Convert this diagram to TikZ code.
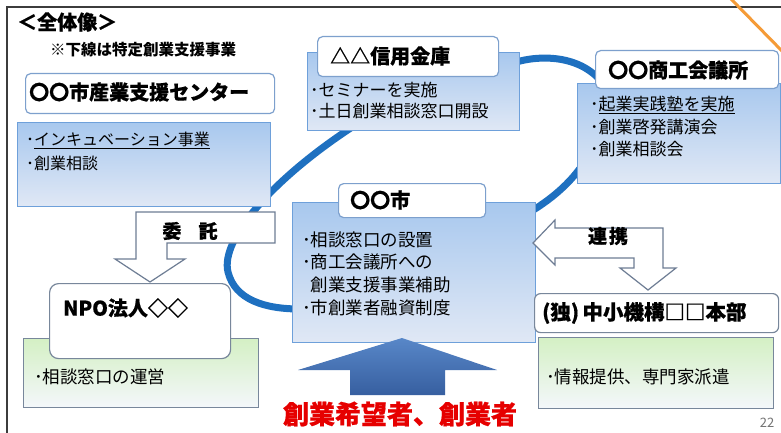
\documentclass[tikz,border=0pt]{standalone}
\usepackage{fontspec}
\setmainfont{Noto Sans CJK JP}
\definecolor{ringblue}{RGB}{30,112,192}
\definecolor{bodytop}{RGB}{168,200,238}
\definecolor{bodybot}{RGB}{224,232,245}
\definecolor{bodyedge}{RGB}{110,160,218}
\definecolor{titleedge}{RGB}{125,160,205}
\definecolor{greentop}{RGB}{212,240,196}
\definecolor{greenbot}{RGB}{244,247,251}
\definecolor{grayedge}{RGB}{120,135,155}
\definecolor{arrowedge}{RGB}{110,125,148}
\definecolor{framecol}{RGB}{60,60,60}
\definecolor{bigtop}{RGB}{88,135,200}
\definecolor{bigbot}{RGB}{55,95,160}
\definecolor{redtext}{RGB}{230,0,0}
\definecolor{orangeline}{RGB}{245,155,55}
\tikzset{
  ring/.style={draw=ringblue, line width=7pt},
  bodybox/.style={draw=bodyedge, line width=1.2pt, top color=bodytop, bottom color=bodybot, inner sep=0pt, anchor=north west},
  greenbox/.style={draw=grayedge, line width=1.2pt, top color=greentop, bottom color=greenbot, inner sep=0pt, anchor=north west},
  titlebox/.style={draw=titleedge, line width=1.2pt, fill=white, rounded corners=5pt, inner sep=0pt, anchor=north west},
  graytitle/.style={titlebox, draw=grayedge},
  ttext/.style={inner sep=0pt, anchor=west, font=\fontsize{20}{24}\selectfont\bfseries\addfontfeature{FakeBold=0.6}},
  btext/.style={inner sep=0pt, anchor=west, font=\fontsize{17}{20}\selectfont},
  stext/.style={inner sep=0pt, anchor=west, font=\fontsize{16}{20}\selectfont},
  bentarrow/.style={draw=arrowedge, line width=1.2pt, fill=white, line join=miter},
  atext/.style={inner sep=0pt, font=\fontsize{19}{22}\selectfont\bfseries\addfontfeature{FakeBold=0.6}},
}
\begin{document}
\begin{tikzpicture}[x=1pt,y=-1pt]
\useasboundingbox (0,0) rectangle (781,433);
\fill[white] (0,0) rectangle (781,433);
% frame
\draw[framecol, line width=1.6pt] (7,433) -- (7,7) -- (781,7);
\draw[orangeline, line width=3pt] (731,-1) -- (782,51);
% heading
\node[inner sep=0pt, anchor=west, font=\fontsize{20}{24}\selectfont\bfseries\addfontfeature{FakeBold=0.6}] (head) at (17,22) {＜全体像＞};
\node[inner sep=0pt, anchor=west, font=\fontsize{15.5}{18}\selectfont\bfseries] (note) at (50,50) {※下線は特定創業支援事業};
% ring
\draw[ring] (360,122) .. controls (272,178) and (220,240) .. (228,272) .. controls (235,300) and (265,309) .. (300,309);
\draw[ring] (505,66) .. controls (530,55) and (575,52) .. (600,80);
\draw[ring] (600,130) .. controls (588,165) and (565,192) .. (525,215);
% 産業支援センター
\node[bodybox, minimum width=253pt, minimum height=84pt] (b1) at (17,122) {};
\node[titlebox, minimum width=249pt, minimum height=40pt] (h1) at (25,73) {};
\node[ttext] (h1t) at (29,92) {〇〇市産業支援センター};
\node[stext] (b1a) at (26,140) {･\underline{インキュベーション事業}};
\node[stext] (b1b) at (26,163) {･創業相談};
% 信用金庫
\node[bodybox, minimum width=212pt, minimum height=78pt] (b2) at (307,52) {};
\node[titlebox, minimum width=181pt, minimum height=40pt] (h2) at (317,36) {};
\node[ttext] (h2t) at (330,56) {△△信用金庫};
\node[btext] (b2a) at (310,90) {･セミナーを実施};
\node[btext] (b2b) at (310,111) {･土日創業相談窓口開設};
% 商工会議所
\node[bodybox, minimum width=203pt, minimum height=100pt] (b3) at (577,83) {};
\node[titlebox, minimum width=183pt, minimum height=38pt] (h3) at (595,50) {};
\node[ttext] (h3t) at (608,70) {〇〇商工会議所};
\node[btext] (b3a) at (590,105) {･\underline{起業実践塾を実施}};
\node[btext] (b3b) at (590,127) {･創業啓発講演会};
\node[btext] (b3c) at (590,149) {･創業相談会};
% 市
\node[bodybox, minimum width=243pt, minimum height=140pt] (b4) at (292,202) {};
\node[titlebox, minimum width=147pt, minimum height=34pt] (h4) at (338,183) {};
\node[ttext] (h4t) at (350,200) {〇〇市};
\node[btext, font=\fontsize{17.5}{20}\selectfont] (b4a) at (302,240) {･相談窓口の設置};
\node[btext, font=\fontsize{17.5}{20}\selectfont] (b4b) at (302,262) {･商工会議所への};
\node[btext, font=\fontsize{17.5}{20}\selectfont] (b4c) at (302,285) {\hphantom{･}創業支援事業補助};
\node[btext, font=\fontsize{17.5}{20}\selectfont] (b4d) at (302,308) {･市創業者融資制度};
% NPO
\node[greenbox, minimum width=235pt, minimum height=69pt] (b5) at (23,338) {};
\node[graytitle, minimum width=181pt, minimum height=75pt, rounded corners=9pt] (h5) at (49,283) {};
\node[ttext] (h5t) at (63,308) {NPO法人◇◇};
\node[btext, font=\fontsize{17.5}{20}\selectfont] (b5a) at (34,377) {･相談窓口の運営};
% 中小機構
\node[greenbox, minimum width=235pt, minimum height=71pt] (b6) at (538,337) {};
\node[graytitle, minimum width=244pt, minimum height=39pt, rounded corners=6pt] (h6) at (534,293) {};
\node[ttext, font=\fontsize{20.5}{24}\selectfont\bfseries\addfontfeature{FakeBold=0.6}] (h6t) at (542,313) {(独)\,中小機構□□本部};
\node[btext, font=\fontsize{17.5}{20}\selectfont] (b6a) at (546,377) {･情報提供、専門家派遣};
% 委託 arrow
\draw[bentarrow] (275,212) -- (136,212) -- (136,259) -- (115,259) -- (150,282) -- (185,259) -- (167,259) -- (167,243) -- (275,243) -- cycle;
\node[atext] (itaku) at (190,231) {委\hspace{0.9em}託};
% 連携 arrow
\draw[bentarrow] (533,243) -- (555,220) -- (555,228) -- (663,228) -- (663,268) -- (676,268) -- (648,290) -- (620,268) -- (634,268) -- (634,258) -- (555,258) -- (555,265) -- cycle;
\node[atext] (renkei) at (608,236) {連\hspace{0.1em}携};
% big arrow
\shade[top color=bigtop, bottom color=bigbot] (402,338) -- (497,370) -- (445,370) -- (445,395) -- (350,395) -- (350,370) -- (298,370) -- cycle;
\node[inner sep=0pt, text=redtext, font=\fontsize{26}{30}\selectfont\bfseries\addfontfeature{FakeBold=0.6}] (seeker) at (400,414) {創業希望者、創業者};
\node[inner sep=0pt, text=black!55, font=\fontsize{13}{15}\selectfont] (page) at (767,423) {22};
\end{tikzpicture}
\end{document}
